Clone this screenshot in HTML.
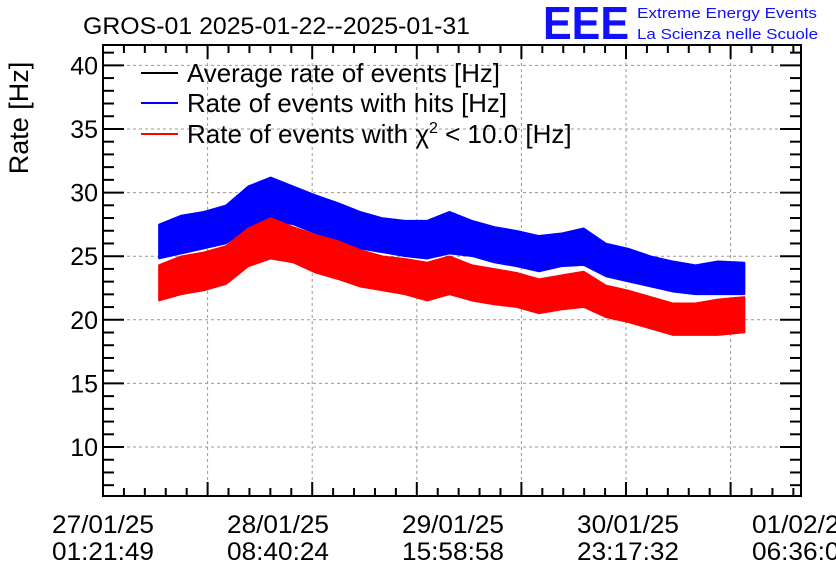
<!DOCTYPE html>
<html><head><meta charset="utf-8"><style>
html,body{margin:0;padding:0;background:#fff;width:836px;height:572px;overflow:hidden}
svg{display:block;font-family:"Liberation Sans",sans-serif}
</style></head><body>
<svg id="chart" width="836" height="572" viewBox="0 0 836 572">
<text x="83" y="34" font-size="24" textLength="387" lengthAdjust="spacingAndGlyphs">GROS-01 2025-01-22--2025-01-31</text>
<g>
<text x="543" y="39" font-size="46" fill="#1010ff" font-weight="bold" textLength="86" lengthAdjust="spacingAndGlyphs">EEE</text>
<text x="637" y="18" font-size="15" fill="#1010ff" textLength="180" lengthAdjust="spacingAndGlyphs">Extreme Energy Events</text>
<text x="637" y="39" font-size="15" fill="#1010ff" textLength="181" lengthAdjust="spacingAndGlyphs">La Scienza nelle Scuole</text>
</g>
<text transform="translate(28,118) rotate(-90)" text-anchor="middle" font-size="27">Rate [Hz]</text>
<g id="grid"></g>
<g id="series"></g>
<g id="axes"></g>
<g>
<g><line x1="141" x2="178" y1="73" y2="73" stroke="#000" stroke-width="2"/><text x="187" y="82" font-size="26" textLength="313" lengthAdjust="spacingAndGlyphs">Average rate of events [Hz]</text></g>
<g><line x1="141" x2="178" y1="103" y2="103" stroke="#00f" stroke-width="2"/><text x="187" y="112" font-size="26" textLength="320" lengthAdjust="spacingAndGlyphs">Rate of events with hits [Hz]</text></g>
<g><line x1="141" x2="178" y1="134" y2="134" stroke="#f00" stroke-width="2"/><text x="187" y="143" font-size="26">Rate of events with χ<tspan font-size="16" dy="-10">2</tspan><tspan dy="10"> &lt; 10.0 [Hz]</tspan></text></g>
</g>
</svg>
<script>
const hours=[10,14,18,22,26,30,34,38,42,46,50,54,58,62,66,70,74,78,82,86,90,94,98,102,106,110,114.8];
const blueLo=[24.8,25.2,25.6,26.0,27.2,27.8,27.5,26.8,26.3,25.6,25.3,25.0,24.8,25.2,25.0,24.5,24.2,23.8,24.2,24.3,23.4,23.0,22.6,22.2,22.0,22.0,22.0];
const blueHi=[27.5,28.2,28.5,29.0,30.5,31.2,30.5,29.8,29.2,28.5,28.0,27.8,27.8,28.5,27.8,27.3,27.0,26.6,26.8,27.2,26.0,25.6,25.0,24.6,24.3,24.6,24.5];
const redLo=[21.5,22.0,22.3,22.8,24.2,24.8,24.5,23.7,23.2,22.6,22.3,22.0,21.5,22.0,21.5,21.2,21.0,20.5,20.8,21.0,20.2,19.8,19.3,18.8,18.8,18.8,19.0];
const redHi=[24.3,25.0,25.3,25.8,27.2,28.0,27.3,26.7,26.2,25.5,25.0,24.8,24.5,25.0,24.3,24.0,23.7,23.2,23.5,23.8,22.7,22.3,21.8,21.3,21.3,21.6,21.8];
const yTicks=[10,15,20,25,30,35,40];
const xLabelsDate=["27/01/25","28/01/25","29/01/25","30/01/25","01/02/25"];
const xLabelsTime=["01:21:49","08:40:24","15:58:58","23:17:32","06:36:06"];

const L=103,R=801,T=45,B=496;
const yMin=6.15,yMax=41.6,hPerPx=31.31/175;
const X=h=>L+h/hPerPx;
const Y=v=>B-(v-yMin)/(yMax-yMin)*(B-T);
const NS="http://www.w3.org/2000/svg";
function mk(tag,attrs,parent){const e=document.createElementNS(NS,tag);for(const k in attrs)e.setAttribute(k,attrs[k]);parent.appendChild(e);return e;}
const grid=document.getElementById('grid'),axes=document.getElementById('axes'),series=document.getElementById('series');
yTicks.forEach(v=>{const l=mk('line',{x1:L,x2:R,y1:Y(v),y2:Y(v),stroke:'#999','stroke-dasharray':'3,3','stroke-width':1},grid);

});
for(let k=1;k<=6;k++){const x=L+104.6*k;const l=mk('line',{x1:x,x2:x,y1:T,y2:B,stroke:'#999','stroke-dasharray':'3,3','stroke-width':1},grid);

}
function band(lo,hi,color,name){
  let pts=[];
  hours.forEach((h,i)=>pts.push(X(h).toFixed(1)+','+Y(hi[i]).toFixed(1)));
  for(let i=hours.length-1;i>=0;i--)pts.push(X(hours[i]).toFixed(1)+','+Y(lo[i]).toFixed(1));
  const p=mk('polygon',{points:pts.join(' '),fill:color,stroke:color,'stroke-width':1.5,'stroke-linejoin':'bevel'},series);
  
  
}
band(blueLo,blueHi,'#0000ff','series-hits');
band(redLo,redHi,'#ff0000','series-chi2');
const f=mk('rect',{x:L,y:T,width:R-L,height:B-T,fill:'none',stroke:'#000','stroke-width':2},axes);


for(let v=7;v<=41;v++){const maj=v%5===0;const len=maj?21:11;
 mk('line',{x1:L,x2:L+len,y1:Y(v),y2:Y(v),stroke:'#000','stroke-width':2},axes);
 mk('line',{x1:R,x2:R-len,y1:Y(v),y2:Y(v),stroke:'#000','stroke-width':2},axes);}
yTicks.forEach(v=>{const t=mk('text',{x:98,y:Y(v)+9,'text-anchor':'end','font-size':25},axes);t.textContent=v;

});
for(let k=1;k<34;k++){const x=L+20.92*k;if(x>=R)break;const maj=k%5===0;const len=maj?14:8;
 mk('line',{x1:x,x2:x,y1:B,y2:B-len,stroke:'#000','stroke-width':2},axes);
 mk('line',{x1:x,x2:x,y1:T,y2:T+len,stroke:'#000','stroke-width':2},axes);}
xLabelsDate.forEach((d,i)=>{const x=L+175*i;
 const t=mk('text',{x:x,y:533,'text-anchor':'middle','font-size':25,textLength:102,lengthAdjust:'spacingAndGlyphs'},axes);t.textContent=d;
 
 
 const t2=mk('text',{x:x,y:560,'text-anchor':'middle','font-size':25,textLength:102,lengthAdjust:'spacingAndGlyphs'},axes);t2.textContent=xLabelsTime[i];
 
 });
</script>
</body></html>
